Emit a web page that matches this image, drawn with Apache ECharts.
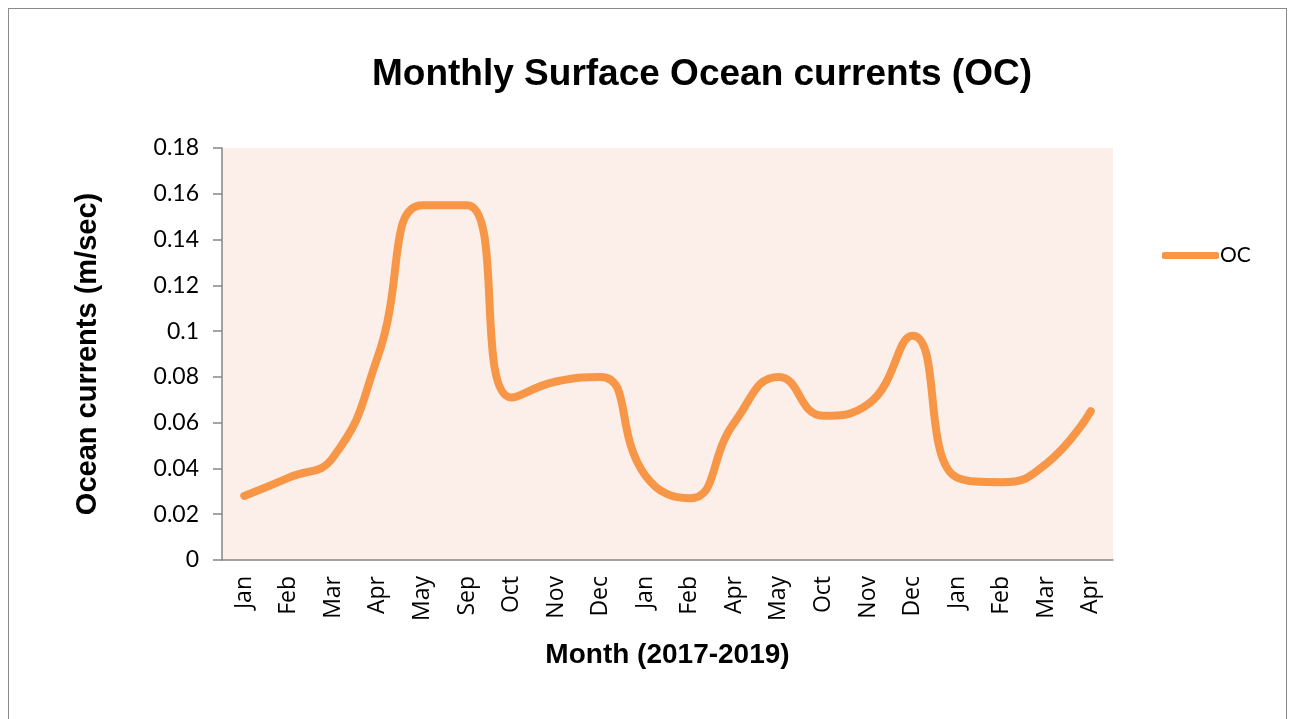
<!DOCTYPE html>
<html>
<head>
<meta charset="utf-8">
<script src="https://cdn.jsdelivr.net/npm/echarts@6/dist/echarts.min.js"></script>
<style>
  body { margin: 0; background: #fff; }
  #frame { position: absolute; left: 8px; top: 8px; width: 1277px; height: 720px; border: 1px solid #8a8a8a; border-bottom: none; }
  #main { position: absolute; left: 0; top: 0; width: 1294px; height: 719px; }
</style>
</head>
<body>
<div id="frame"></div>
<div id="main"></div>
<script>
// month labels (2017-2019)
var months = ['Jan', 'Feb', 'Mar', 'Apr', 'May', 'Sep', 'Oct', 'Nov', 'Dec', 'Jan',
  'Feb', 'Apr', 'May', 'Oct', 'Nov', 'Dec', 'Jan', 'Feb', 'Mar', 'Apr'];
// surface ocean current, m/sec
var ocValues = [0.028, 0.036, 0.045, 0.089, 0.155, 0.155, 0.071, 0.078, 0.080, 0.037,
  0.027, 0.060, 0.080, 0.063, 0.068, 0.098, 0.036, 0.034, 0.042, 0.065];
var yTicks = [0, 0.02, 0.04, 0.06, 0.08, 0.1, 0.12, 0.14, 0.16, 0.18];

var chart = echarts.init(document.getElementById('main'));

var option = {
  backgroundColor: 'transparent',
  title: {
    text: 'Monthly Surface Ocean currents (OC)',
    left: 697,
    textAlign: 'center',
    top: 51,
    textStyle: { fontFamily: 'Liberation Sans', fontWeight: 'bold', fontSize: 37, color: '#000' }
  },
  legend: {
    data: ['OC'],
    left: 1157,
    top: 240,
    icon: 'roundRect',
    itemWidth: 57,
    itemHeight: 7,
    itemGap: 0,
    textStyle: { fontFamily: 'Lato', fontSize: 21, color: '#000', padding: [0, 0, 0, -4] }
  },
  grid: {
    show: true,
    left: 222,
    right: 181,
    top: 148,
    bottom: 159,
    backgroundColor: '#FCEEE9',
    borderWidth: 0
  },
  xAxis: {
    type: 'category',
    data: months,
    boundaryGap: true,
    name: 'Month (2017-2019)',
    nameLocation: 'middle',
    nameGap: 81,
    nameTextStyle: { fontFamily: 'Liberation Sans', fontWeight: 'bold', fontSize: 28, color: '#000' },
    axisLine: { lineStyle: { color: '#868686', width: 1.5 } },
    axisTick: { show: false },
    axisLabel: {
      interval: 0,
      rotate: 90,
      margin: 16,
      fontFamily: 'Open Sans',
      fontSize: 23,
      color: '#000'
    },
    splitLine: { show: false }
  },
  yAxis: {
    type: 'value',
    min: 0,
    max: 0.18,
    interval: 0.02,
    name: 'Ocean currents (m/sec)',
    nameLocation: 'middle',
    nameRotate: 90,
    nameGap: 120,
    nameTextStyle: { fontFamily: 'Liberation Sans', fontWeight: 'bold', fontSize: 29, color: '#000' },
    axisLine: { show: true, lineStyle: { color: '#868686', width: 1.5 } },
    axisTick: { show: true, length: 9, lineStyle: { color: '#868686', width: 1.5 } },
    axisLabel: {
      margin: 23,
      fontFamily: 'Lato',
      fontSize: 23,
      color: '#000',
      formatter: function (v) {
        var t = yTicks.find(function (k) { return Math.abs(k - v) < 1e-9; });
        return t === undefined ? '' : String(t);
      }
    },
    splitLine: { show: false }
  },
  series: [{
    name: 'OC',
    type: 'line',
    data: ocValues,
    smooth: 0.5,
    showSymbol: false,
    symbol: 'none',
    color: '#F79646',
    lineStyle: { color: '#F79646', width: 8, cap: 'round', join: 'round' }
  }]
};

chart.setOption(option);
</script>
</body>
</html>
